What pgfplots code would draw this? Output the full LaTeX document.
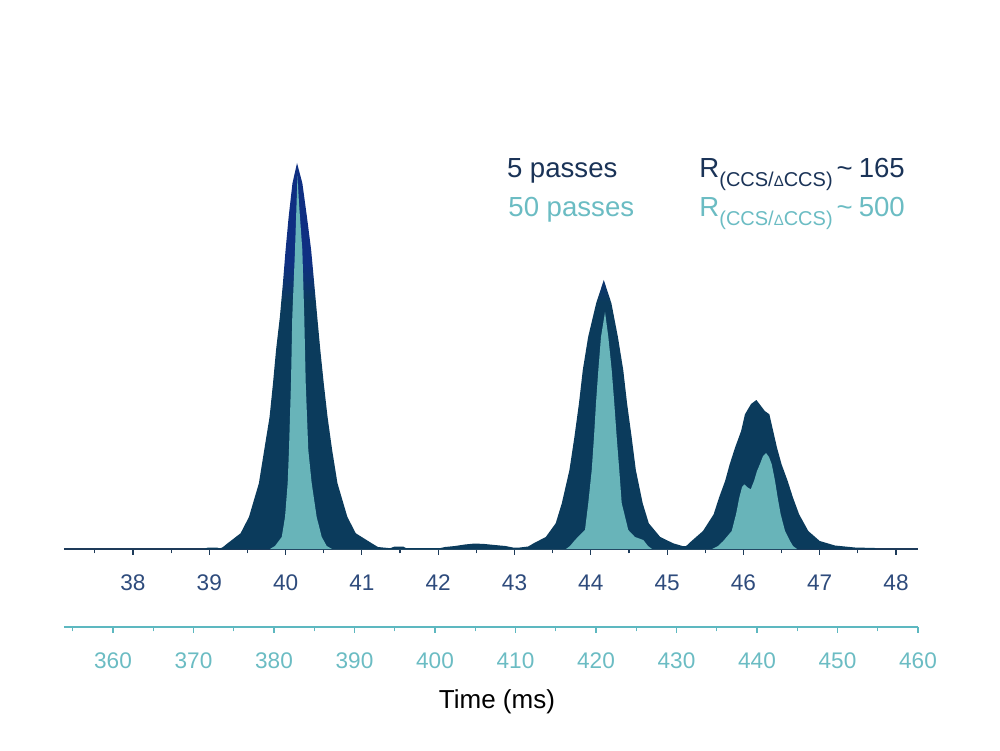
\documentclass[border=0pt]{standalone}
\usepackage{pgfplots}
\pgfplotsset{compat=1.18}
\usepackage{fontspec}
\setmainfont{Liberation Sans}

\definecolor{peakdark}{HTML}{0B3B5C}
\definecolor{peakblue}{HTML}{0F2F82}
\definecolor{peakteal}{HTML}{68B4B9}
\definecolor{axdark}{HTML}{1E3B5A}
\definecolor{lbldark}{HTML}{2E4B7C}
\definecolor{axteal}{HTML}{5DB8C0}
\definecolor{lblteal}{HTML}{6BBCC3}
\definecolor{legdark}{HTML}{1A3357}

% 5-pass arrival time distribution turns blue towards the tallest peak tops
\pgfdeclareverticalshading{peakshade}{100bp}{color(0bp)=(peakdark); color(57bp)=(peakdark); color(62bp)=(peakblue); color(100bp)=(peakblue)}

\begin{document}
\begin{tikzpicture}
\path[use as bounding box] (0,0) rectangle (500pt,375pt);

% 5 passes, upper time scale (ms)
\begin{axis}[
  at={(32pt,100.5pt)}, anchor=south west,
  scale only axis, width=427pt, height=204.5pt,
  xmin=37.096, xmax=48.288, ymin=0, ymax=409,
  axis x line=bottom, axis y line=none,
  x axis line style={draw=axdark, line width=0.8pt, -},
  xtick={38,39,...,48}, minor xtick={37.5,38.5,...,47.5},
  tick align=outside, major tick length=2.8pt, minor tick length=2.2pt,
  every tick/.style={axdark, line width=0.6pt},
  xticklabel style={text=lbldark, font=\fontsize{11.3}{13}\selectfont},
  xticklabel shift=6.5pt,
  /pgf/number format/assume math mode=true,
  clip=false,
]
\addplot[shading=peakshade, draw=none] coordinates {
 (38.94,0) (38.98,1.5) (39.10,1.5) (39.14,0.5) (39.18,2) (39.24,5.7)
 (39.41,15.7) (39.52,32) (39.65,65.7) (39.72,99) (39.79,132) (39.835,165.7)
 (39.875,199) (39.925,232) (39.965,265.7) (40.00,299) (40.04,332) (40.09,365.7)
 (40.15,386) (40.22,365.7) (40.28,332) (40.335,299) (40.375,265.7) (40.415,232)
 (40.455,199) (40.50,165.7) (40.55,132) (40.61,99) (40.68,65.7) (40.81,32)
 (40.92,15.7) (41.13,5.7) (41.21,2) (41.37,0.8) (41.43,2.5) (41.54,2.5)
 (41.58,0.8) (42.02,0.8) (42.09,2) (42.22,3) (42.35,4.5) (42.48,5.5)
 (42.61,5) (42.74,4) (42.88,3) (42.98,1.5) (43.07,1.5) (43.18,2.5)
 (43.25,5.7) (43.41,12) (43.54,25.7) (43.62,45.7) (43.72,79) (43.785,112)
 (43.845,145.7) (43.895,179) (43.965,212) (44.07,245.7) (44.17,269) (44.27,245.7)
 (44.355,212) (44.425,179) (44.475,145.7) (44.535,112) (44.59,79) (44.68,45.7)
 (44.76,25.7) (44.91,12) (45.08,5.7) (45.20,3) (45.25,3) (45.32,8)
 (45.47,18) (45.61,34.7) (45.68,51.3) (45.76,68) (45.82,84.7) (45.89,101.3)
 (45.97,118) (46.02,134.7) (46.10,145) (46.17,149) (46.24,142) (46.28,138)
 (46.34,134.7) (46.39,118) (46.44,101.3) (46.50,84.7) (46.58,68) (46.65,51.3)
 (46.73,34.7) (46.85,18) (47.00,8) (47.20,3.5) (47.46,1.5) (47.72,1) (47.74,0)
} -- cycle;
\end{axis}

% 50 passes, lower time scale (ms)
\begin{axis}[
  at={(32pt,61.5pt)}, anchor=south west,
  scale only axis, width=427pt, height=243.5pt,
  xmin=353.913, xmax=460, ymin=-78, ymax=409,
  axis x line=bottom, axis y line=none,
  x axis line style={draw=axteal, line width=0.8pt, -},
  xtick={360,370,...,460}, minor xtick={355,365,...,455},
  tick align=outside, major tick length=2.8pt, minor tick length=2.2pt,
  every tick/.style={axteal, line width=0.6pt},
  xticklabel style={text=lblteal, font=\fontsize{11.3}{13}\selectfont},
  xticklabel shift=6.5pt,
  /pgf/number format/assume math mode=true,
  xlabel={Time (ms)},
  every axis x label/.style={at={(axis description cs:0.507,0)}, anchor=center,
    yshift=-37.5pt, font=\fontsize{13}{15}\selectfont, text=black},
  clip=false,
]
\addplot[fill=peakteal, draw=none] coordinates {
 (379.50,0) (380.12,3) (380.96,12) (381.37,32) (381.70,66) (381.86,99)
 (382.11,166) (382.27,232) (382.61,299) (382.80,345) (382.92,373) (383.11,345)
 (383.52,299) (383.76,232) (383.94,166) (384.26,99) (384.68,66) (385.30,32)
 (385.93,12) (386.55,3) (387.20,0)
 (416.27,0) (416.77,3) (417.39,9) (418.63,19) (419.04,46) (419.47,79)
 (419.75,112) (420.00,146) (420.29,179) (420.62,212) (421.12,237) (421.53,212)
 (421.95,179) (422.27,146) (422.57,112) (422.89,79) (423.19,46) (424.01,19)
 (424.84,12) (425.88,9) (426.46,3) (426.96,0)
 (434.41,0) (435.16,3) (435.81,8) (436.86,18) (437.39,34.7) (437.80,51.3)
 (438.14,62) (438.42,64.7) (438.76,62) (439.22,59.7) (439.63,68) (440.00,78)
 (440.37,85) (440.75,93) (441.12,96) (441.49,92) (441.83,84.7) (442.24,68)
 (442.57,51.3) (442.94,34.7) (443.48,18) (444.10,8) (444.47,3) (444.97,0)
} -- cycle;
\end{axis}

% resolution notes
\begin{scope}[every node/.style={anchor=base west, inner sep=0pt, font=\fontsize{13.8}{16}\selectfont}]
\node[text=legdark] at (253.3pt,286pt) {5 passes};
\node[text=lblteal] at (254pt,266.7pt) {50 passes};
\node[text=legdark] at (349.5pt,286pt)
  {R\raisebox{-4.3pt}{\fontsize{10}{11}\selectfont (CCS/{\fontsize{7.5}{8}\selectfont Δ}CCS)}\kern2pt\textasciitilde\kern3pt 165};
\node[text=lblteal] at (349.5pt,266.7pt)
  {R\raisebox{-4.3pt}{\fontsize{10}{11}\selectfont (CCS/{\fontsize{7.5}{8}\selectfont Δ}CCS)}\kern2pt\textasciitilde\kern3pt 500};
\end{scope}
\end{tikzpicture}
\end{document}
